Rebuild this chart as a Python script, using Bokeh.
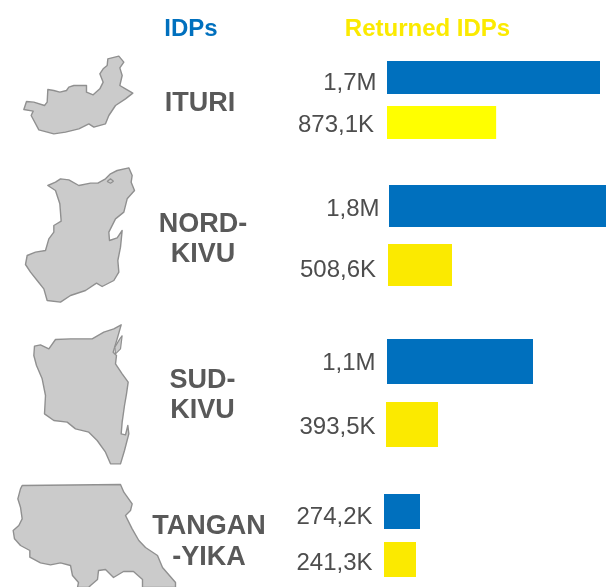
from bokeh.plotting import figure
from bokeh.models import Range1d
from bokeh.core.properties import value
from bokeh.embed import file_html
from bokeh.resources import INLINE

# Data
provinces = ["ITURI", "NORD-\nKIVU", "SUD-\nKIVU", "TANGAN\n-YIKA"]
idps_k = [1704, 1736, 1168, 288]
returned_k = [873.1, 512, 416, 256]
idps_labels = ["1,7M", "1,8M", "1,1M", "274,2K"]
returned_labels = ["873,1K", "508,6K", "393,5K", "241,3K"]
headers = ["IDPs", "Returned IDPs"]

# Layout
PX_PER_K = 0.125
idps_start = [386.5, 388.5, 386.5, 383.5]
ret_start = [386.5, 387.5, 385.5, 383.5]
idps_top = [60.5, 184.5, 338.5, 493.5]
idps_h = [33, 42, 45, 35]
ret_top = [105.5, 243.5, 401.5, 541.5]
ret_h = [33, 42, 45, 35]
idps_label_x = [376, 379, 375, 372]
ret_label_x = [373.5, 375.5, 375, 372]
idps_label_y = [81, 207, 361, 515]
ret_label_y = [123, 268, 425, 561]
name_x = [199.5, 202.5, 202, 208.5]
name_y = [[101], [222, 252], [378, 408], [524, 555]]
BLUE = "#0070BE"
YELLOW = "#FBEA00"
YELLOW_1 = "#FFFF00"
DARK = "#595959"
VALUE_TEXT = "#4D4D4D"
MAP_FILL = "#CBCBCB"
MAP_LINE = "#909090"

# Map outlines in magnified form: (origin x, origin y, points)
ituri = (0, 40, [(78,183),(100,185),(132,195),(140,185),(142,147),(160,150),(178,155),(198,150),(205,140),(220,135),(240,135),(258,135),(258,155),(278,163),(298,145),(308,125),(298,100),(308,85),(320,75),(322,55),(355,47),(370,65),(358,82),(365,105),(358,135),(375,145),(397,158),(375,175),(345,195),(325,225),(315,250),(280,260),(265,250),(235,265),(195,275),(160,280),(115,268),(100,240),(92,225),(98,212),(70,207)])
nord = (10, 160, [(112,75),(135,65),(150,55),(175,58),(205,75),(240,68),(262,68),(285,55),(300,40),(320,30),(355,22),(365,45),(362,65),(372,90),(350,115),(340,155),(315,175),(295,215),(297,240),(320,232),(335,210),(330,260),(322,300),(325,335),(310,360),(275,378),(258,368),(225,390),(180,405),(150,425),(110,420),(100,385),(80,360),(60,335),(45,312),(50,285),(75,275),(105,270),(115,235),(130,215),(130,195),(152,182),(148,130),(135,90)])
sud = (20, 315, [(42,92),(60,88),(85,100),(105,72),(150,70),(215,70),(250,50),(280,40),(302,28),(290,70),(278,110),(288,120),(285,145),(305,175),(323,200),(318,235),(312,270),(305,320),(302,355),(315,358),(322,330),(325,355),(312,405),(300,445),(270,445),(255,410),(230,375),(205,350),(165,340),(140,320),(100,315),(72,295),(75,240),(65,190),(48,150),(40,120)])
tang = (0, 475, [(65,30),(360,27),(370,50),(395,85),(390,105),(375,120),(395,160),(415,195),(435,216),(471,240),(486,276),(525,321),(525,336),(426,336),(426,312),(399,288),(369,288),(339,306),(315,282),(294,285),(291,312),(270,330),(264,336),(231,336),(234,321),(216,300),(210,270),(180,262),(150,268),(120,262),(88,245),(88,225),(60,210),(42,190),(38,165),(55,150),(65,130),(60,95),(52,70),(60,40)])
shapes = [ituri, nord, sud, tang]
lakes = [(10, 160, [(290,63),(300,55),(309,62),(300,68)]),
         (20, 315, [(298,70),(305,60),(300,100),(285,115),(283,95)])]

p = figure(width=606, height=587, x_range=Range1d(0, 606), y_range=Range1d(587, 0),
           output_backend="svg", toolbar_location=None, min_border=0,
           outline_line_color=None, background_fill_color="white")
p.axis.visible = False
p.grid.visible = False
p.styles = {"position": "fixed", "left": "0px", "top": "0px"}

for ox, oy, s in shapes:
    p.patch([ox + c[0] / 3 for c in s], [oy + c[1] / 3 for c in s], fill_color=MAP_FILL,
            line_color=MAP_LINE, line_width=1.4, line_join="round")
for ox, oy, s in lakes:
    p.patch([ox + c[0] / 3 for c in s], [oy + c[1] / 3 for c in s], fill_color=MAP_FILL,
            line_color=MAP_LINE, line_width=1.2)

FONT = value("Liberation Sans")
for i in range(4):
    p.hbar(y=[idps_top[i] + idps_h[i] / 2], left=[idps_start[i]], right=[idps_start[i] + idps_k[i] * PX_PER_K],
           height=idps_h[i], fill_color=BLUE, line_color=None)
    p.hbar(y=[ret_top[i] + ret_h[i] / 2], left=[ret_start[i]], right=[ret_start[i] + returned_k[i] * PX_PER_K],
           height=ret_h[i], fill_color=YELLOW_1 if i == 0 else YELLOW, line_color=None)
    p.text([idps_label_x[i]], [idps_label_y[i]], text=[idps_labels[i]], text_align="right", text_baseline="middle",
           text_font=FONT, text_font_size="24px", text_color=VALUE_TEXT)
    p.text([ret_label_x[i]], [ret_label_y[i]], text=[returned_labels[i]], text_align="right", text_baseline="middle",
           text_font=FONT, text_font_size="24px", text_color=VALUE_TEXT)
    for line, y in zip(provinces[i].split("\n"), name_y[i]):
        p.text([name_x[i]], [y], text=[line], text_align="center", text_baseline="middle",
               text_font=FONT, text_font_style="bold", text_font_size="27px", text_color=DARK)

p.text([190.5], [27], text=[headers[0]], text_align="center", text_baseline="middle",
       text_font=FONT, text_font_style="bold", text_font_size="24px", text_color=BLUE)
p.text([427], [27], text=[headers[1]], text_align="center", text_baseline="middle",
       text_font=FONT, text_font_style="bold", text_font_size="24px", text_color=YELLOW)

open("out.html", "w").write(file_html(p, INLINE))
